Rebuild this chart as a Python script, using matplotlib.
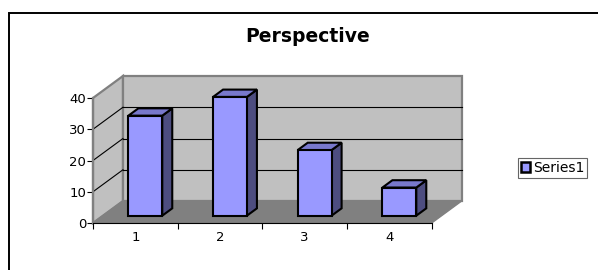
import numpy as np
import matplotlib
matplotlib.use('Agg')
import matplotlib.pyplot as plt
from matplotlib.patches import Polygon, Rectangle

# chart data
categories = ['1', '2', '3', '4']
values = [32, 38, 21, 9]
y_ticks = [0, 10, 20, 30, 40]
series_name = 'Series1'
title = 'Perspective'

# 3D look (oblique projection, in data units)
DX = 0.354      # depth offset along x
DY = 7.04       # depth offset along y
D0, D1 = 1 / 3, 2 / 3   # bar depth range
BAR_W = 0.4

wall_color = '#C0C0C0'
floor_color = '#808080'
edge_gray = '#808080'
front_color = '#9999FF'
top_color = '#7878CC'
side_color = '#4D4D80'

fig = plt.figure(figsize=(5.98, 2.70), dpi=100)
ax = fig.add_axes([93 / 598, 47 / 270, 338.7 / 598, 125 / 270])
ax.set_xlim(0.5, len(values) + 0.5)
ax.set_ylim(0, max(y_ticks))
ax.patch.set_visible(False)

xmin, xmax = 0.5, len(values) + 0.5
ymax = max(y_ticks)

# walls and floor
floor = Polygon([(xmin, 0), (xmax, 0), (xmax + DX, DY), (xmin + DX, DY)],
                fc=floor_color, ec=floor_color, lw=1, clip_on=False, zorder=1)
left_wall = Polygon([(xmin, 0), (xmin, ymax), (xmin + DX, ymax + DY), (xmin + DX, DY)],
                    fc=wall_color, ec=edge_gray, lw=1.6, clip_on=False, zorder=1)
back_wall = Polygon([(xmin + DX, DY), (xmax + DX, DY), (xmax + DX, ymax + DY), (xmin + DX, ymax + DY)],
                    fc=wall_color, ec=edge_gray, lw=1.6, clip_on=False, zorder=1)
for p in (left_wall, back_wall, floor):
    ax.add_patch(p)

# gridlines on walls
for v in y_ticks[1:-1]:
    ax.plot([xmin, xmin + DX], [v, v + DY], color='black', lw=0.8, clip_on=False, zorder=1.5)
    ax.plot([xmin + DX, xmax + DX], [v + DY, v + DY], color='black', lw=0.8, clip_on=False, zorder=1.5)

# bars
xs = np.arange(1, len(values) + 1)
ddx = DX * (D1 - D0)
ddy = DY * (D1 - D0)
for xc, h in zip(xs, values):
    x0 = xc - BAR_W / 2 + DX * D0
    x1 = x0 + BAR_W
    y0 = DY * D0
    y1 = y0 + h
    front = [(x0, y0), (x1, y0), (x1, y1), (x0, y1)]
    top = [(x0, y1), (x1, y1), (x1 + ddx, y1 + ddy), (x0 + ddx, y1 + ddy)]
    side = [(x1, y0), (x1 + ddx, y0 + ddy), (x1 + ddx, y1 + ddy), (x1, y1)]
    for pts, c in ((side, side_color), (top, top_color), (front, front_color)):
        ax.add_patch(Polygon(pts, fc=c, ec='black', lw=1.5, joinstyle='miter',
                             clip_on=False, zorder=3))

# axes
for s in ('top', 'right'):
    ax.spines[s].set_visible(False)
ax.spines['left'].set_color(edge_gray)
ax.spines['left'].set_linewidth(1.6)
ax.spines['bottom'].set_color('black')
ax.spines['bottom'].set_linewidth(0.8)
ax.spines['left'].set_zorder(2)
ax.spines['bottom'].set_zorder(2)

ax.set_yticks(y_ticks)
ax.tick_params(axis='y', length=4, width=0.8, color='black', labelsize=9.5, pad=1)
ax.set_xticks(np.arange(0.5, len(values) + 1))
ax.set_xticklabels([])
ax.set_xticks(xs, minor=True)
ax.set_xticklabels(categories, minor=True)
ax.tick_params(axis='x', which='major', length=4, width=0.8, color='black')
ax.tick_params(axis='x', which='minor', length=0, labelsize=9.5, pad=6)

fig.text(307.5 / 598, 1 - 36 / 270, title, ha='center', va='center',
         fontsize=13.5, fontweight='bold')

handle = Rectangle((0, 0), 1, 1, fc=front_color, ec='black', lw=1.8)
leg = fig.legend([handle], [series_name], loc='upper left',
                 bbox_to_anchor=(518 / 598, 1 - 158 / 270), fontsize=10,
                 frameon=True, fancybox=False, handlelength=0.65, handleheight=0.65,
                 handletextpad=0.25, borderpad=0.2, borderaxespad=0)
leg.get_frame().set_edgecolor('#404040')
leg.get_frame().set_linewidth(0.8)
leg._legend_box.align = 'left'

# chart border
fig.add_artist(Rectangle((9 / 598, -0.1), 1.0, (270 - 13) / 270 + 0.1,
                         transform=fig.transFigure, fill=False, ec='black', lw=1.4))

fig.savefig('out.png', dpi=100)
